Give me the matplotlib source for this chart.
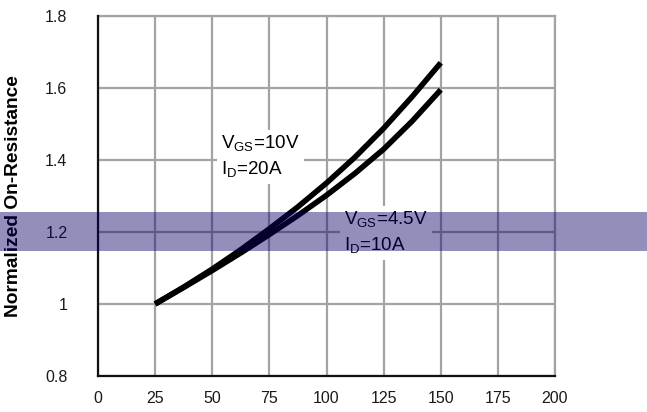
import matplotlib
matplotlib.use("Agg")
import matplotlib.pyplot as plt
from matplotlib.patches import Rectangle

plt.rcParams['font.family'] = ['Liberation Sans', 'DejaVu Sans']
plt.rcParams['mathtext.fontset'] = 'custom'
plt.rcParams['mathtext.rm'] = 'Liberation Sans'

# Data (junction temperature in degC vs normalized on-resistance)
temps = [25, 37.5, 50, 62.5, 75, 87.5, 100, 112.5, 125, 137.5, 150]
rds_vgs10 = [1.0, 1.047, 1.097, 1.151, 1.209, 1.27, 1.336, 1.408, 1.488, 1.576, 1.67]
rds_vgs45 = [1.0, 1.046, 1.093, 1.142, 1.193, 1.246, 1.302, 1.363, 1.43, 1.508, 1.595]
x_ticks = [0, 25, 50, 75, 100, 125, 150, 175, 200]
x_tick_labels = ["0", "25", "50", "75", "100", "125", "150", "175", "200"]
y_ticks = [0.8, 1.0, 1.2, 1.4, 1.6, 1.8]
y_tick_labels = ["0.8", "1", "1.2", "1.4", "1.6", "1.8"]
label_10v = "V$_{\\mathregular{GS}}$=10V\nI$_{\\mathregular{D}}$=20A"
label_45v = "V$_{\\mathregular{GS}}$=4.5V\nI$_{\\mathregular{D}}$=10A"

W, H = 647, 412
fig = plt.figure(figsize=(W / 100, H / 100), dpi=100)
fig.patch.set_facecolor('white')
ax = fig.add_axes([98 / W, 36 / H, (555 - 98) / W, (376 - 16) / H])
ax.set_facecolor('none')

ax.plot(temps, rds_vgs10, color='black', lw=4.0, solid_capstyle='butt',
        solid_joinstyle='round', zorder=5)
ax.plot(temps, rds_vgs45, color='black', lw=4.0, solid_capstyle='butt',
        solid_joinstyle='round', zorder=5)

ax.set_xlim(0, 200)
ax.set_ylim(0.8, 1.8)
ax.set_xticks(x_ticks)
ax.set_xticklabels(x_tick_labels)
ax.set_yticks(y_ticks)
ax.set_yticklabels(y_tick_labels)
ax.grid(True, color='#a3a3a3', lw=1.6, zorder=1)
ax.set_axisbelow(True)
ax.tick_params(axis='both', length=0, labelsize=11.5, colors='#1a1a1a')
ax.tick_params(axis='y', pad=22)
ax.tick_params(axis='x', pad=11)

for s in ['top', 'right']:
    ax.spines[s].set_linewidth(1.6)
    ax.spines[s].set_color('#a3a3a3')
for s in ['left', 'bottom']:
    ax.spines[s].set_linewidth(1.6)
    ax.spines[s].set_color('#111111')
    ax.spines[s].set_zorder(6)

ax.set_ylabel("Normalized On-Resistance", fontsize=13.8, fontweight='bold')
ax.yaxis.set_label_coords(-(98 - 22) / (555 - 98), 0.5)

bbox = dict(facecolor='white', edgecolor='none', pad=3)
ax.text(54.0, 1.472, label_10v, fontsize=13.5, ha='left', va='top',
        linespacing=1.35, bbox=bbox, zorder=4)
ax.text(107.8, 1.262, label_45v, fontsize=13.5, ha='left', va='top',
        linespacing=1.35, bbox=bbox, zorder=4)

# translucent horizontal band across the whole picture
fig.add_artist(Rectangle((0, (H - 251) / H), 1, 39 / H, transform=fig.transFigure,
                         facecolor=(0.04, 0.0, 0.4), edgecolor='none', alpha=0.44,
                         zorder=10))

fig.savefig("out.png", dpi=100)
